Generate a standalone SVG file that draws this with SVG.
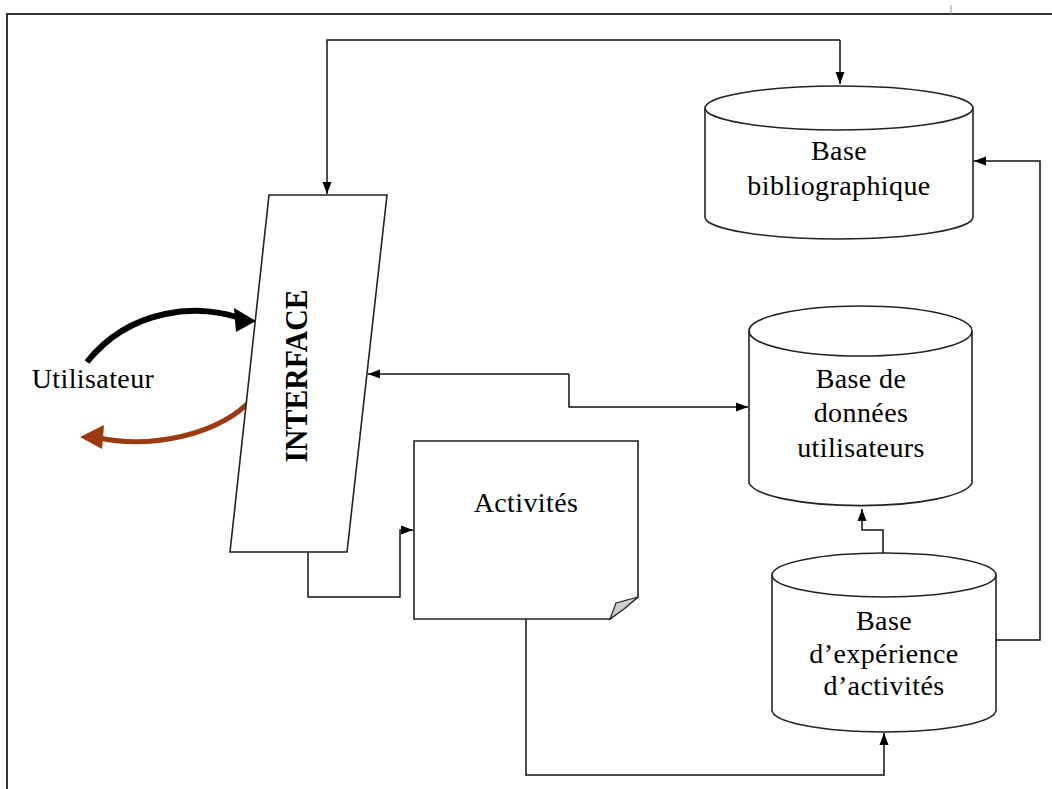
<svg xmlns="http://www.w3.org/2000/svg" width="1052" height="789" viewBox="0 0 1052 789">
<style>
.sh{fill:#fff;stroke:#222;stroke-width:1.6}
.ln{fill:none;stroke:#111;stroke-width:1.5}
.t{font-family:"Liberation Serif","Times New Roman",serif;font-size:28px;letter-spacing:0.4px;fill:#000;text-anchor:middle}
</style>
<defs>
<marker id="ah" viewBox="0 0 12 10" refX="12" refY="5" markerWidth="12" markerHeight="10" markerUnits="userSpaceOnUse" orient="auto">
<path d="M0,0.5 L12,5 L0,9.5 z" fill="#000"/>
</marker>
</defs>
<rect width="1052" height="789" fill="#fff"/>
<g id="frame">
<path d="M7,789 V14 H1052" fill="none" stroke="#333" stroke-width="2"/>
<line x1="951" y1="5" x2="951" y2="14" stroke="#999" stroke-width="1"/>
</g>
<g id="connectors">
<path class="ln" d="M840,40 H327 V194" marker-end="url(#ah)"/>
<path class="ln" d="M840,40 V84" marker-end="url(#ah)"/>
<path class="ln" d="M569,374 H368" marker-end="url(#ah)"/>
<path class="ln" d="M569,374 V407 H748" marker-end="url(#ah)"/>
<path class="ln" d="M308,552 V597 H400 V530 H413" marker-end="url(#ah)"/>
<path class="ln" d="M526,619 V775 H884 V733" marker-end="url(#ah)"/>
<path class="ln" d="M883,553 V530 H862 V509" marker-end="url(#ah)"/>
<path class="ln" d="M996,640 H1040 V161 H974" marker-end="url(#ah)"/>
<path d="M87,362 C130,308 200,302 245,320" fill="none" stroke="#000" stroke-width="6"/>
<path d="M234,308 L256,321 L236,332 z" fill="#000"/>
<path d="M253,398 C220,435 150,450 95,437" fill="none" stroke="#9a3a0e" stroke-width="5"/>
<path d="M104,425 L80,437 L102,449 z" fill="#9a3a0e"/>
</g>
<g id="interface">
<path class="sh" d="M269,195 H387 L347,552 H230 Z"/>
<text class="t" transform="translate(307,376) rotate(-90)" style="font-weight:bold;font-size:31px;letter-spacing:0" textLength="173" lengthAdjust="spacingAndGlyphs">INTERFACE</text>
</g>
<g id="utilisateur">
<text class="t" x="93" y="388">Utilisateur</text>
</g>
<g id="activites">
<path class="sh" d="M414,441 H638 V597 L610,619 H414 Z"/>
<path d="M610,619 L616,603 L638,597 L624,609 Z" fill="#ccc" stroke="#222" stroke-width="1.2"/>
<text class="t" x="526" y="512">Activités</text>
</g>
<g id="base-biblio">
<path class="sh" d="M705,108 V217 A134,22 0 0 0 973,217 V108"/>
<ellipse class="sh" cx="839" cy="108" rx="134" ry="22"/>
<text class="t" x="839" y="160">Base</text>
<text class="t" x="839" y="195">bibliographique</text>
</g>
<g id="base-utilisateurs">
<path class="sh" d="M749,331 V483 A112,25 0 0 0 972,483 V331"/>
<ellipse class="sh" cx="860.5" cy="331" rx="111.5" ry="25"/>
<text class="t" x="861" y="388">Base de</text>
<text class="t" x="861" y="422">données</text>
<text class="t" x="861" y="457">utilisateurs</text>
</g>
<g id="base-experience">
<path class="sh" d="M772,575 V710 A112,22 0 0 0 996,710 V575"/>
<ellipse class="sh" cx="884" cy="575" rx="112" ry="22"/>
<text class="t" x="884" y="630">Base</text>
<text class="t" x="884" y="663">d’expérience</text>
<text class="t" x="884" y="695">d’activités</text>
</g>
</svg>
